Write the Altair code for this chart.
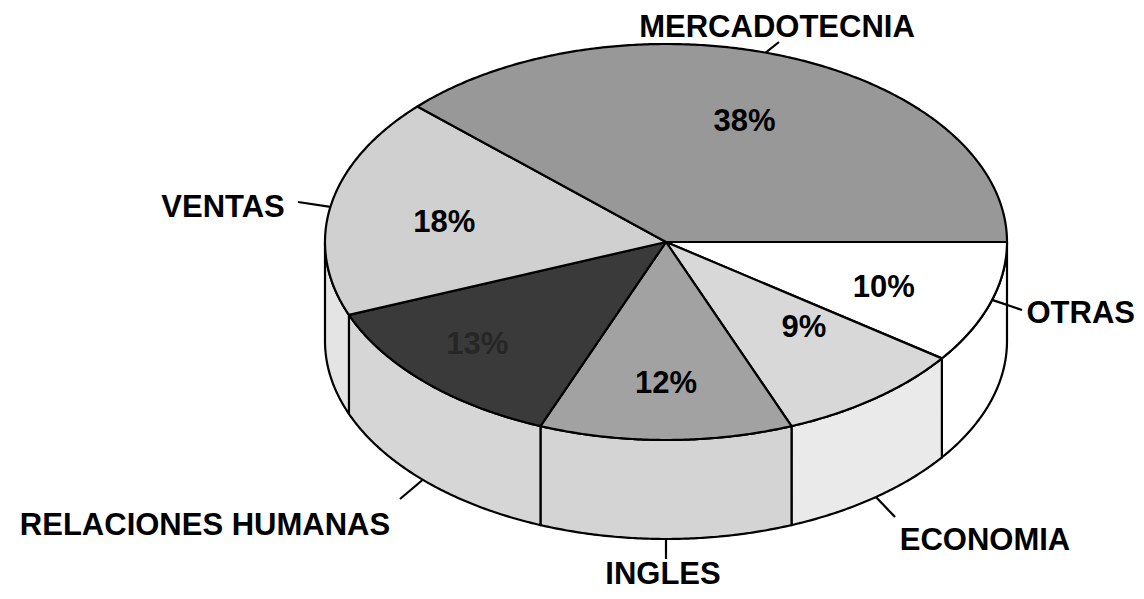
import altair as alt
import numpy as np
import pandas as pd

# ---- data ----
categories = ["OTRAS", "ECONOMIA", "INGLES", "RELACIONES HUMANAS", "VENTAS", "MERCADOTECNIA"]
percents = [10, 9, 12, 13, 18, 38]
pct_labels = ["10%", "9%", "12%", "13%", "18%", "38%"]

# ---- styles ----
top_fill = ["#ffffff", "#d8d8d8", "#a2a2a2", "#3a3a3a", "#d0d0d0", "#989898"]
wall_fill = ["#ffffff", "#eaeaea", "#d4d4d4", "#d6d6d6", "#e4e4e4", "#cccccc"]
pct_color = ["#000000", "#000000", "#000000", "#262626", "#000000", "#000000"]

# ---- layout (page pixel units) ----
CX, CY, RX, RY, DEPTH = 666, 242, 341, 198, 99
LABEL_FRAC = 0.65
# per-label nudges of the percentage text from its radial position
pct_nudge = {"OTRAS": (7, 6), "ECONOMIA": (2, -16), "INGLES": (0, 13),
             "RELACIONES HUMANAS": (-32, 12), "VENTAS": (-4, 5), "MERCADOTECNIA": (-3, 0)}
# outer labels: text anchor/baseline, alignment, leader anchor angle on rim (0 top / 1 bottom), leader end
name_pos = {
    "MERCADOTECNIA": dict(tx=777, ty=37, al="center", t=287, rim=0, ex=779, ey=42),
    "VENTAS": dict(tx=223, ty=217, al="center", t=190.2, rim=0, ex=298, ey=202),
    "OTRAS": dict(tx=1135, ty=323, al="right", t=17, rim=0, ex=1022, ey=310),
    "ECONOMIA": dict(tx=985, ty=550, al="center", t=52, rim=1, ex=895, ey=517),
    "RELACIONES HUMANAS": dict(tx=205, ty=535, al="center", t=135.5, rim=1, ex=400, ey=499),
    "INGLES": dict(tx=663, ty=584, al="center", t=90, rim=1, ex=666, ey=559),
}


def rim(t_deg, drop=0.0):
    t = np.radians(t_deg)
    return CX + RX * np.cos(t), CY + RY * np.sin(t) + drop


bounds = np.concatenate([[0.0], np.cumsum(percents) * 3.6])

top_rows, wall_rows, pct_rows, name_rows, lead_rows = [], [], [], [], []
for k, cat in enumerate(categories):
    a0, a1 = bounds[k], bounds[k + 1]
    ts = np.linspace(a0, a1, int(a1 - a0) * 2 + 2)
    pts = [(CX, CY)] + [rim(t) for t in ts] + [(CX, CY)]
    for i, (x, y) in enumerate(pts):
        top_rows.append(dict(cat=cat, i=i, x=x, y=y, fill=top_fill[k]))
    w0, w1 = max(a0, 0.0), min(a1, 180.0)
    if w1 > w0:
        ts = np.linspace(w0, w1, int(w1 - w0) * 2 + 2)
        pts = [rim(t) for t in ts] + [rim(t, DEPTH) for t in ts[::-1]]
        pts.append(pts[0])
        for i, (x, y) in enumerate(pts):
            wall_rows.append(dict(cat=cat, i=i, x=x, y=y, fill=wall_fill[k]))
    mid = np.radians((a0 + a1) / 2)
    dx, dy = pct_nudge[cat]
    pct_rows.append(dict(x=CX + LABEL_FRAC * RX * np.cos(mid) + dx,
                         y=CY + LABEL_FRAC * RY * np.sin(mid) + dy,
                         text=pct_labels[k], col=pct_color[k]))
    p = name_pos[cat]
    name_rows.append(dict(x=p["tx"], y=p["ty"], text=cat, al=p["al"]))
    sx, sy = rim(p["t"], DEPTH * p["rim"])
    lead_rows.append(dict(cat=cat, i=0, x=sx, y=sy))
    lead_rows.append(dict(cat=cat, i=1, x=p["ex"], y=p["ey"]))

top_df = pd.DataFrame(top_rows)
wall_df = pd.DataFrame(wall_rows)
pct_df = pd.DataFrame(pct_rows)
name_df = pd.DataFrame(name_rows)
lead_df = pd.DataFrame(lead_rows)

xs = alt.Scale(domain=[8, 1136], nice=False, zero=False)
ys = alt.Scale(domain=[8, 591], nice=False, zero=False, reverse=True)
X = alt.X("x:Q", scale=xs, axis=None)
Y = alt.Y("y:Q", scale=ys, axis=None)

walls = alt.Chart(wall_df).mark_line(stroke="black", strokeWidth=2.2, strokeJoin="round").encode(
    x=X, y=Y, detail="cat:N", order="i:Q", fill=alt.Fill("fill:N", scale=None)
)
tops = alt.Chart(top_df).mark_line(stroke="black", strokeWidth=2.2, strokeJoin="round").encode(
    x=X, y=Y, detail="cat:N", order="i:Q", fill=alt.Fill("fill:N", scale=None)
)
leaders = alt.Chart(lead_df).mark_line(stroke="black", strokeWidth=2.2).encode(
    x=X, y=Y, detail="cat:N", order="i:Q"
)
pct_text = alt.Chart(pct_df).mark_text(
    font="Liberation Sans", fontWeight="bold", fontSize=31, align="center", baseline="middle"
).encode(x=X, y=Y, text="text:N", color=alt.Color("col:N", scale=None))

name_layers = []
for al in ["center", "right"]:
    sub = name_df[name_df["al"] == al]
    name_layers.append(
        alt.Chart(sub).mark_text(
            font="Liberation Sans", fontWeight="bold", fontSize=31, align=al,
            baseline="alphabetic", color="black"
        ).encode(x=X, y=Y, text="text:N")
    )

chart = alt.layer(walls, tops, leaders, pct_text, *name_layers).properties(
    width=1128, height=583, padding=0, autosize=alt.AutoSizeParams(type="none")
).configure_view(strokeWidth=0)

chart.save("out.html", embed_options={"renderer": "svg", "actions": False})
